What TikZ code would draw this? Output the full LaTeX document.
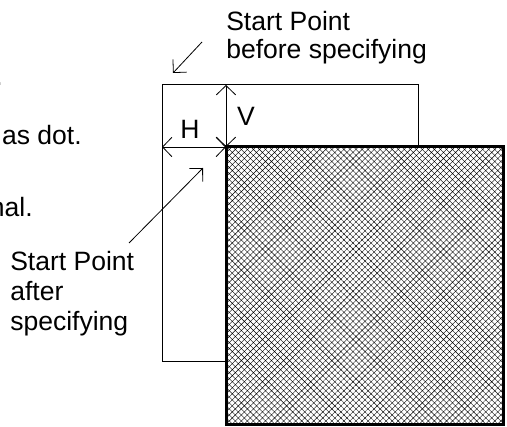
\documentclass[tikz,border=0pt]{standalone}
\usepackage{fontspec}
\setmainfont{Liberation Sans}
\usepackage{tikz}
\usetikzlibrary{arrows.meta,patterns.meta}

\tikzset{
  lbl/.style={inner sep=0pt, font=\fontsize{19.9pt}{22.5pt}\selectfont},
  dimline/.style={line width=0.6pt, {Straight Barb[length=7pt,width=14.5pt]}-{Straight Barb[length=7pt,width=14.5pt]}},
  pointer/.style={line width=0.6pt, -{Straight Barb[length=7pt,width=14pt]}},
  hatched/.style={line width=2.25pt, fill=white, postaction={pattern={Hatch[angle=45,distance=3.2pt,line width=0.3pt]}}}
}

\begin{document}
\begin{tikzpicture}[x=0.75pt,y=0.75pt,yscale=-1,xscale=1]
\useasboundingbox (0,0) rectangle (507,427);

% Start points
\coordinate (before) at (162,85);
\coordinate (after) at (226,147);

%Shape: outer frame (before specifying)
\draw[line width=0.75pt] (before) rectangle (418,362);
%Shape: hatched area
\draw[hatched] (after) rectangle (503,425);

% Dimension arrows
\draw[dimline] (after |- before) -- (after);
\draw[dimline] (before |- after) -- (after);
\node[lbl] (Hlab) at (190,129) {H};
\node[lbl] (Vlab) at (246,116) {V};

% Text Node
\node[lbl, anchor=north west, align=left, font=\fontsize{19.9pt}{21pt}\selectfont] (txtBefore) at (226,11) {Start Point\\before specifying};
% Text Node
\node[lbl, anchor=north west, align=left] (txtAfter) at (10,251) {Start Point\\after\\specifying};

% Pointers
\coordinate (beforeTail) at (202,42);
\coordinate (beforeTip) at (173,73);
\draw[pointer] (beforeTail) -- (beforeTip);
\coordinate (afterTail) at (129,243);
\coordinate (afterTip) at (203,168);
\draw[pointer] (afterTail) -- (afterTip);

% Text cut at the left edge
\node[lbl, anchor=base east] (cut1) at (3,86) {.};
\node[lbl, anchor=base east] (cut2) at (82,145) {as dot.};
\node[lbl, anchor=base east] (cut3) at (33,217) {nal.};
\end{tikzpicture}
\end{document}
